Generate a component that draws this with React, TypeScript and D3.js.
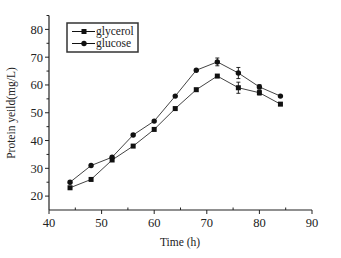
import React from "react";
import * as d3 from "d3";

const times = [44, 48, 52, 56, 60, 64, 68, 72, 76, 80, 84];
const glycerol = [23, 26, 33, 38, 44, 51.5, 58.3, 63.2, 59, 57.2, 53.1];
const glucose = [25, 31, 34, 42, 47, 56, 65.3, 68.3, 64.3, 59.3, 56];
const glycerolErr = [0, 0, 0, 0, 0, 0, 0, 0, 2, 0.8, 0];
const glucoseErr = [0, 0, 0, 0, 0, 0, 0, 1.4, 2, 0.8, 0];
const xTicks = [40, 50, 60, 70, 80, 90];
const xMinor = [45, 55, 65, 75, 85];
const yTicks = [20, 30, 40, 50, 60, 70, 80];
const yMinor = [25, 35, 45, 55, 65, 75, 85];
const seriesNames = ["glycerol", "glucose"];

export default function App() {
  const W = 341, H = 258;
  const x = d3.scaleLinear().domain([40, 90]).range([49, 312]);
  const y = d3.scaleLinear().domain([15, 85]).range([210, 15.5]);
  const line = d3.line<number>().x((_, i) => x(times[i])).y((d) => y(d));
  const font = "'Liberation Serif', 'Times New Roman', serif";
  const lineColor = "#444";

  const errBars = (vals: number[], errs: number[]) =>
    vals.map((v, i) =>
      errs[i] > 0 ? (
        <g key={i} stroke="#111" strokeWidth={0.9}>
          <line x1={x(times[i])} x2={x(times[i])} y1={y(v + errs[i])} y2={y(v - errs[i])} />
          <line x1={x(times[i]) - 2} x2={x(times[i]) + 2} y1={y(v + errs[i])} y2={y(v + errs[i])} />
          <line x1={x(times[i]) - 2} x2={x(times[i]) + 2} y1={y(v - errs[i])} y2={y(v - errs[i])} />
        </g>
      ) : null
    );

  return (
    <svg width={W} height={H} style={{ position: "absolute", left: 0, top: 0, background: "#fff" }}>
      <rect width={W} height={H} fill="#fff" />
      <line x1={x(40)} x2={x(40)} y1={y(85)} y2={y(15)} stroke="#222" strokeWidth={1.2} />
      <line x1={x(40)} x2={x(90)} y1={y(15)} y2={y(15)} stroke="#222" strokeWidth={1.2} />
      {yTicks.map((t) => (
        <g key={t}>
          <line x1={x(40) - 4} x2={x(40)} y1={y(t)} y2={y(t)} stroke="#222" />
          <text x={x(40) - 6} y={y(t)} dy="0.35em" textAnchor="end" fontFamily={font} fontSize={12.5} fill="#222">
            {t}
          </text>
        </g>
      ))}
      {yMinor.map((t) => (
        <line key={t} x1={x(40) - 2.5} x2={x(40)} y1={y(t)} y2={y(t)} stroke="#222" />
      ))}
      {xTicks.map((t) => (
        <g key={t}>
          <line x1={x(t)} x2={x(t)} y1={y(15)} y2={y(15) + 4} stroke="#222" />
          <text x={x(t)} y={y(15) + 17} textAnchor="middle" fontFamily={font} fontSize={12.5} fill="#222">
            {t}
          </text>
        </g>
      ))}
      {xMinor.map((t) => (
        <line key={t} x1={x(t)} x2={x(t)} y1={y(15) - 2.5} y2={y(15)} stroke="#222" />
      ))}
      <text x={180} y={246} textAnchor="middle" fontFamily={font} fontSize={11.5} fill="#222">
        Time (h)
      </text>
      <text
        transform={`translate(15,${113}) rotate(-90)`}
        textAnchor="middle"
        fontFamily={font}
        fontSize={11.5}
        fill="#222"
      >
        Protein yeild(mg/L)
      </text>
      <path d={line(glycerol) || ""} fill="none" stroke={lineColor} strokeWidth={1} />
      <path d={line(glucose) || ""} fill="none" stroke={lineColor} strokeWidth={1} />
      {errBars(glycerol, glycerolErr)}
      {errBars(glucose, glucoseErr)}
      {glycerol.map((v, i) => (
        <rect key={i} x={x(times[i]) - 2.5} y={y(v) - 2.5} width={5} height={5} fill="#111" />
      ))}
      {glucose.map((v, i) => (
        <circle key={i} cx={x(times[i])} cy={y(v)} r={2.7} fill="#111" />
      ))}
      <rect x={67} y={23} width={71} height={29} fill="#fff" stroke="#333" strokeWidth={1.5} />
      {seriesNames.map((n, i) => {
        const ly = 31.5 + i * 12;
        return (
          <g key={n}>
            <line x1={72} x2={95} y1={ly} y2={ly} stroke="#111" strokeWidth={1} />
            {i === 0 ? (
              <rect x={81.5} y={ly - 2.5} width={5} height={5} fill="#111" />
            ) : (
              <circle cx={84} cy={ly} r={2.7} fill="#111" />
            )}
            <text x={96} y={ly} dy="0.32em" fontFamily={font} fontSize={11.5} fill="#222">
              {n}
            </text>
          </g>
        );
      })}
    </svg>
  );
}
